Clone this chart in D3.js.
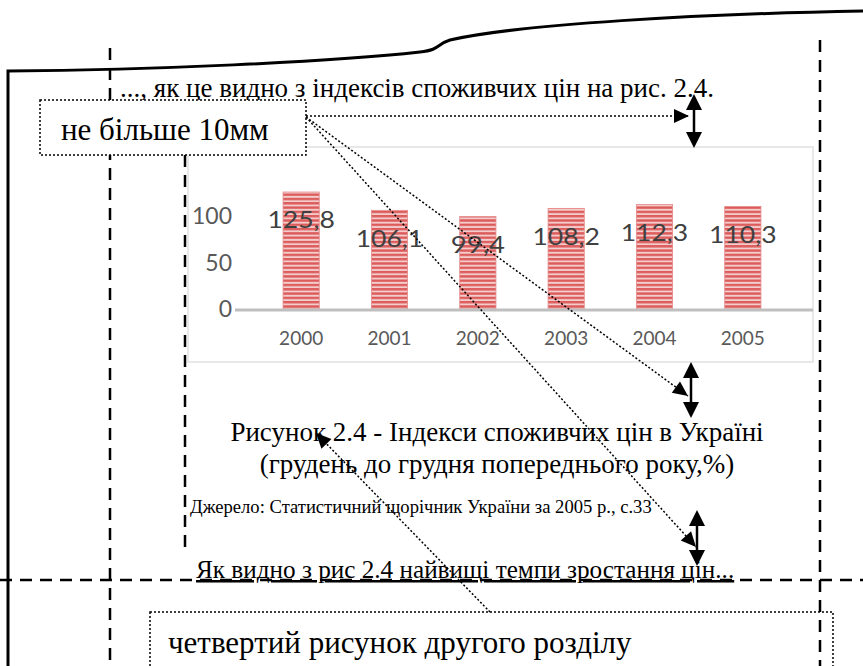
<!DOCTYPE html>
<html>
<head>
<meta charset="utf-8">
<script src="https://cdn.jsdelivr.net/npm/d3@7"></script>
<style>
  body { margin: 0; background: #fff; }
  svg { display: block; }
</style>
</head>
<body>
<svg id="page" width="863" height="666"></svg>
<script>
// chart data
const years = ["2000", "2001", "2002", "2003", "2004", "2005"];
const cpi = [125.8, 106.1, 99.4, 108.2, 112.3, 110.3];
const cpiLabels = ["125,8", "106,1", "99,4", "108,2", "112,3", "110,3"];
const yTicks = [0, 50, 100];

const SERIF = "Liberation Serif";
const SANS = "Lato";

const svg = d3.select("#page");

// --- bar pattern (horizontal stripes)
const defs = svg.append("defs");
const pat = defs.append("pattern")
	.attr("id", "stripes")
	.attr("patternUnits", "userSpaceOnUse")
	.attr("width", 8).attr("height", 4.3);
pat.append("rect").attr("width", 8).attr("height", 4.3).attr("fill", "#f4cccc");
pat.append("rect").attr("y", 0).attr("width", 8).attr("height", 2.4).attr("fill", "#dc5c5c");

// --- chart frame
svg.append("rect")
	.attr("x", 188).attr("y", 147)
	.attr("width", 625).attr("height", 215)
	.attr("fill", "none").attr("stroke", "#d9d9d9").attr("stroke-width", 1.2);

const x = d3.scaleBand().domain(years).range([257, 787]).paddingInner(0.59).paddingOuter(0.295);
const y = d3.scaleLinear().domain([0, 150]).range([309, 169.5]);

// y tick labels
svg.append("g").selectAll("text")
	.data(yTicks).join("text")
	.style("font-family", SANS)
	.attr("x", 232).attr("y", d => y(d))
	.attr("dy", "0.36em")
	.attr("text-anchor", "end")
	.attr("font-size", 23).attr("fill", "#595959")
	.text(d => d);

// bars
svg.append("g").selectAll("rect")
	.data(cpi).join("rect")
	.attr("x", (d, i) => x(years[i]))
	.attr("y", d => y(d))
	.attr("width", x.bandwidth())
	.attr("height", d => y(0) - y(d))
	.attr("fill", "url(#stripes)")
	.attr("stroke", "#e58a8a").attr("stroke-width", 0.8);

// zero axis line
svg.append("line")
	.attr("x1", 235).attr("x2", 813)
	.attr("y1", y(0) + 1).attr("y2", y(0) + 1)
	.attr("stroke", "#bfbfbf").attr("stroke-width", 3);

// category labels
const xAxis = svg.append("g").attr("transform", `translate(0,${y(0) + 18})`)
	.call(d3.axisBottom(x).tickSize(0).tickPadding(4));
xAxis.select(".domain").remove();
xAxis.selectAll("text")
	.style("font-family", SANS)
	.attr("font-size", 19).attr("fill", "#595959");

// value labels (stretched like the scanned original)
svg.append("g").selectAll("text")
	.data(cpi).join("text")
	.style("font-family", SANS)
	.attr("x", (d, i) => x(years[i]) + x.bandwidth() / 2)
	.attr("y", d => y(d) + 28)
	.attr("dy", "0.36em")
	.attr("text-anchor", "middle")
	.attr("font-size", 23).attr("fill", "#404040")
	.attr("textLength", (d, i) => cpiLabels[i].length * 13.5)
	.attr("lengthAdjust", "spacingAndGlyphs")
	.text((d, i) => cpiLabels[i]);

// --- page edge
svg.append("path")
	.attr("d", "M8,666 L8,71 C150,70 330,62 420,52 C440,50 437,44 450,40 C520,24 700,14 863,11")
	.attr("fill", "none").attr("stroke", "#000").attr("stroke-width", 3);

// --- dashed margin guides
function dashed(x1, y1, x2, y2) {
	svg.append("line")
		.attr("x1", x1).attr("y1", y1).attr("x2", x2).attr("y2", y2)
		.attr("stroke", "#000").attr("stroke-width", 2.5)
		.attr("stroke-dasharray", "12,8");
}
dashed(110, 48, 110, 666);
dashed(820, 40, 820, 666);
dashed(185, 155, 185, 550);
dashed(0, 580, 863, 580);

// --- texts
function serifText(tx, ty, size, str, anchor) {
	return svg.append("text")
		.style("font-family", SERIF)
		.attr("x", tx).attr("y", ty).attr("font-size", size)
		.attr("text-anchor", anchor || "start")
		.attr("fill", "#000")
		.text(str);
}

serifText(120, 97, 27, "..., як це видно з індексів споживчих цін на рис. 2.4.");

svg.append("rect")
	.attr("x", 40).attr("y", 100).attr("width", 266).attr("height", 55)
	.attr("fill", "#fff").attr("stroke", "#000").attr("stroke-width", 1.5)
	.attr("stroke-dasharray", "2,2");
serifText(61, 140, 31, "не більше 10мм");

serifText(497, 441, 27, "Рисунок 2.4 - Індекси споживчих цін в Україні", "middle");
serifText(497, 473, 27, "(грудень до грудня попереднього року,%)", "middle");
serifText(190, 513, 18.6, "Джерело: Статистичний щорічник України за 2005 р., с.33");

serifText(196, 578, 25.2, "Як видно з рис 2.4 найвищі темпи зростання цін...")
	.attr("text-decoration", "underline");

svg.append("rect")
	.attr("x", 150).attr("y", 612).attr("width", 683).attr("height", 70)
	.attr("fill", "none").attr("stroke", "#000").attr("stroke-width", 1.5)
	.attr("stroke-dasharray", "2,2");
serifText(168, 653, 31, "четвертий рисунок другого розділу");

// --- arrows
function head(tx, ty, fx, fy, len, half) {
	const a = Math.atan2(ty - fy, tx - fx);
	const bx = tx - len * Math.cos(a), by = ty - len * Math.sin(a);
	const px = -Math.sin(a) * half, py = Math.cos(a) * half;
	svg.append("path")
		.attr("d", `M${tx},${ty} L${bx + px},${by + py} L${bx - px},${by - py} Z`)
		.attr("fill", "#000");
}
function dotted(x1, y1, x2, y2) {
	svg.append("line")
		.attr("x1", x1).attr("y1", y1).attr("x2", x2).attr("y2", y2)
		.attr("stroke", "#000").attr("stroke-width", 1.5)
		.attr("stroke-dasharray", "2,2");
	head(x2, y2, x1, y1, 15, 7);
}
function doubleArrow(cx, top, bottom) {
	svg.append("line")
		.attr("x1", cx).attr("x2", cx).attr("y1", top + 10).attr("y2", bottom - 10)
		.attr("stroke", "#000").attr("stroke-width", 2.5);
	head(cx, top, cx, bottom, 16, 8);
	head(cx, bottom, cx, top, 16, 8);
}

dotted(306, 116, 689, 116);
dotted(306, 117, 688, 396);
dotted(306, 117, 696, 547);
dotted(490, 612, 316, 433);

doubleArrow(694, 94, 148);
doubleArrow(691, 362, 418);
doubleArrow(697, 510, 566);
</script>
</body>
</html>
